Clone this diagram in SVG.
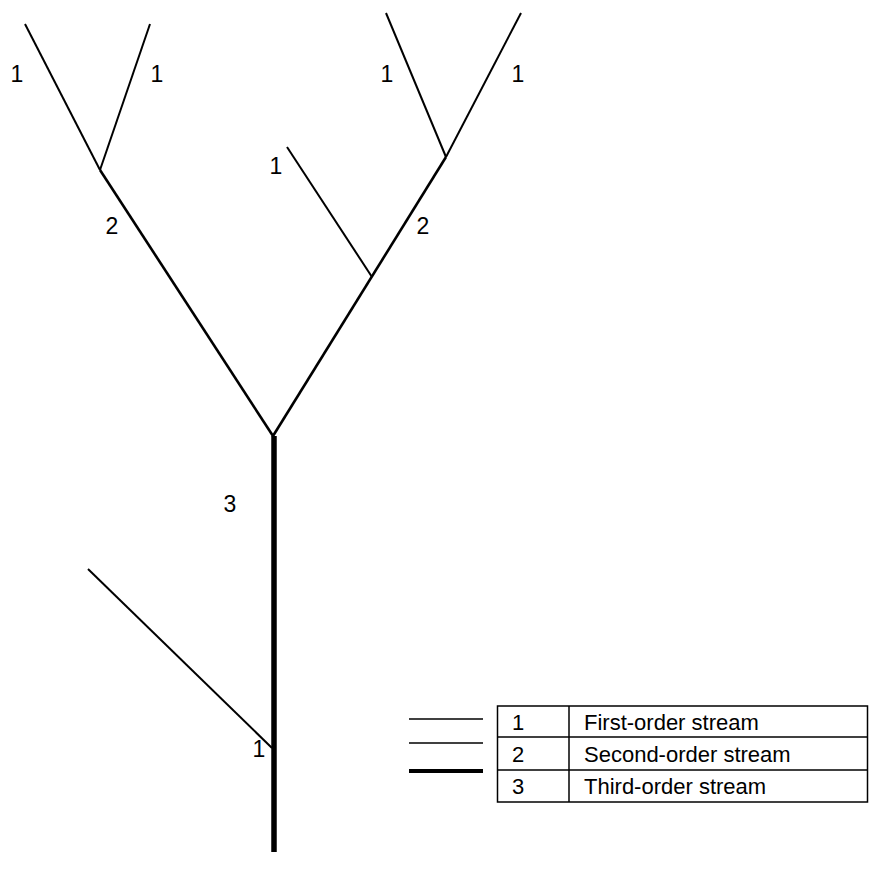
<svg xmlns="http://www.w3.org/2000/svg" width="871" height="879" viewBox="0 0 871 879">
<style>
.o1{stroke:#000;stroke-width:2;fill:none;stroke-linecap:butt}
.o2{stroke:#000;stroke-width:2.6;fill:none}
.o3{stroke:#000;stroke-width:5.5;fill:none}
.lbl{font-family:"Liberation Sans",Arial,sans-serif;font-size:23px;fill:#000;text-anchor:middle}
.lg{font-family:"Liberation Sans",Arial,sans-serif;font-size:22px;fill:#000}
.cell{fill:#fff;stroke:#000;stroke-width:1.5}
</style>
<rect width="871" height="879" fill="#fff"/>
<g id="connectors">
<line class="o1" x1="25" y1="24" x2="100" y2="170"/>
<line class="o1" x1="150" y1="24" x2="100" y2="170"/>
<line class="o1" x1="386" y1="13" x2="446" y2="157"/>
<line class="o1" x1="521" y1="13" x2="446" y2="157"/>
<line class="o1" x1="287" y1="147" x2="372" y2="277"/>
<line class="o2" x1="100" y1="170" x2="273" y2="436"/>
<line class="o2" x1="446" y1="157" x2="273" y2="436"/>
<line class="o3" x1="274" y1="436" x2="274" y2="852"/>
<line class="o1" x1="88" y1="569" x2="272" y2="748"/>
</g>
<g id="labels">
<text class="lbl" x="17" y="82">1</text>
<text class="lbl" x="157" y="82">1</text>
<text class="lbl" x="387" y="82">1</text>
<text class="lbl" x="518" y="82">1</text>
<text class="lbl" x="276" y="174">1</text>
<text class="lbl" x="112" y="234">2</text>
<text class="lbl" x="423" y="234">2</text>
<text class="lbl" x="230" y="512">3</text>
<text class="lbl" x="259" y="757">1</text>
</g>
<g id="legend">
<line x1="409" y1="719" x2="483" y2="719" stroke="#000" stroke-width="1.5"/>
<line x1="409" y1="743" x2="483" y2="743" stroke="#000" stroke-width="1.5"/>
<line x1="409" y1="771" x2="483" y2="771" stroke="#000" stroke-width="4"/>
<rect class="cell" x="497.5" y="706" width="370" height="96"/>
<line x1="497.5" y1="737" x2="867.5" y2="737" stroke="#000" stroke-width="1.5"/>
<line x1="497.5" y1="770" x2="867.5" y2="770" stroke="#000" stroke-width="1.5"/>
<line x1="569" y1="706" x2="569" y2="802" stroke="#000" stroke-width="1.5"/>
<text class="lg" x="512" y="730">1</text>
<text class="lg" x="584" y="730">First-order stream</text>
<text class="lg" x="512" y="762">2</text>
<text class="lg" x="584" y="762">Second-order stream</text>
<text class="lg" x="512" y="794">3</text>
<text class="lg" x="584" y="794">Third-order stream</text>
</g>
</svg>
